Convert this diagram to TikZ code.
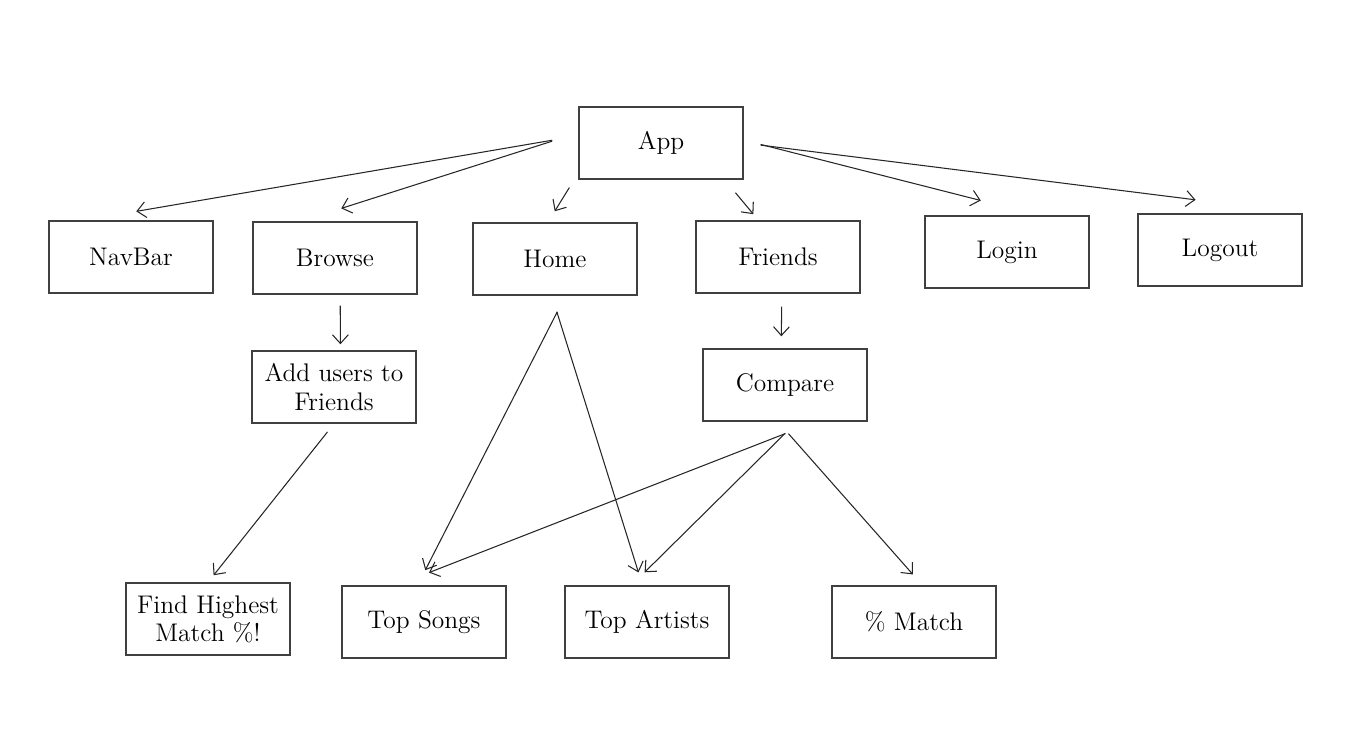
\documentclass[tikz,border=0pt]{standalone}
\usetikzlibrary{arrows.meta}
\begin{document}
\begin{tikzpicture}[x=0.02cm, y=-0.02cm]
			\useasboundingbox (0,0) rectangle (1364,736);

			\begin{scope}[every node/.style={rectangle, draw=black!75, line width=0.8pt, minimum width=3.28cm, minimum height=1.44cm, inner sep=1pt, align=center, font=\fontsize{14.5}{16}\selectfont}]
				\node (app) at (661,143) {App};
				\node (navbar) at (131,257) {NavBar};
				\node (browse) at (335,258) {Browse};
				\node (home) at (555,259) {Home};
				\node (friends) at (778,257) {Friends};
				\node (login) at (1007,252) {Login};
				\node (logout) at (1220,250) {Logout};
				\node (adduser) at (334,387) {Add users to\\Friends};
				\node (compare) at (785,385) {Compare};
				\node (findmatch) at (208,619) {Find Highest\\Match \%!};
				\node (topsongs) at (424,622) {Top Songs};
				\node (topartists) at (647,622) {Top Artists};
				\node (match) at (914,622) {\% Match};
			\end{scope}

			\begin{scope}[black!85, line width=0.6pt, -{Straight Barb[length=5pt, width=9pt]}]
				\draw[shorten <=0.53cm, shorten >=1.06cm] (app.175) -- (navbar.142);
				\draw[shorten <=0.55cm, shorten >=0.85cm] (app.173) -- (browse.133);
				\draw[shorten <=0.34cm, shorten >=0.26cm] (app.200) -- (home.101);
				\draw[shorten <=0.34cm, shorten >=0.16cm] (app.-30) -- (friends.118);
				\draw[shorten <=0.35cm, shorten >=1.2cm] (app.2) -- (login.49);
				\draw[shorten <=0.34cm, shorten >=2.16cm] (app.east) -- (logout.north east);
				\draw[shorten <=0.22cm, shorten >=0.12cm] (browse.-82) -- (adduser.80);
				\draw[shorten <=0.21cm, shorten >=0.18cm] (adduser.south) -- (findmatch.north);
				\draw[shorten <=0.36cm, shorten >=0.34cm] (home.-74) -- (topsongs.100);
				\draw[shorten <=0.34cm, shorten >=0.27cm] (home.-95) -- (topartists.97);
				\draw[shorten <=0.26cm, shorten >=0.24cm] (friends.-84) -- (compare.96);
				\draw[shorten <=0.65cm, shorten >=0.7cm] (compare.-50) -- (topsongs.127);
				\draw[shorten <=0.34cm, shorten >=0.37cm] (compare.-72) -- (topartists.113);
				\draw[shorten <=0.32cm, shorten >=0.29cm] (compare.-101) -- (match.77);
			\end{scope}
		\end{tikzpicture}
\end{document}
